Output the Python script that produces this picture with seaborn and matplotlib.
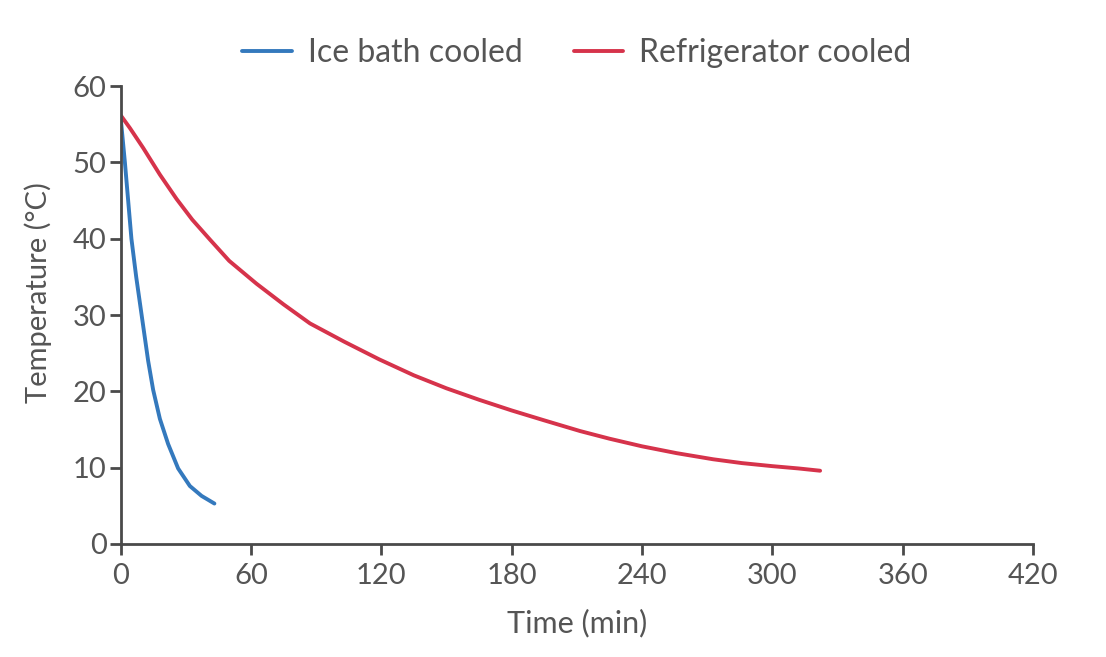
import numpy as np
import pandas as pd
import matplotlib
matplotlib.use("Agg")
import matplotlib.pyplot as plt
import seaborn as sns

# Data
ice_time = [0, 1.0, 2.0, 3.5, 5.0, 7.2, 9.7, 11.2, 12.7, 15.0, 18.1, 21.9, 26.5, 31.9, 37.3, 43.2]
ice_temp = [56.0, 53.0, 50.0, 45.0, 40.0, 35.0, 30.0, 27.0, 24.0, 20.2, 16.4, 13.1, 9.9, 7.6, 6.3, 5.3]

fridge_time = [0, 4.3, 10.4, 18.1, 25.8, 33, 41.1, 50, 62.6, 75, 87.2, 103, 119, 135, 150,
               165, 180, 195, 211.5, 225, 240, 256, 272.8, 286, 300, 312, 322]
fridge_temp = [56.2, 54.5, 51.9, 48.4, 45.2, 42.5, 39.9, 37.1, 34.1, 31.4, 28.9, 26.5, 24.2, 22.1, 20.4,
               18.9, 17.5, 16.2, 14.8, 13.8, 12.8, 11.9, 11.1, 10.6, 10.2, 9.9, 9.6]

series_names = ["Ice bath cooled", "Refrigerator cooled"]
x_ticks = [0, 60, 120, 180, 240, 300, 360, 420]
y_ticks = [0, 10, 20, 30, 40, 50, 60]

df = pd.concat([
    pd.DataFrame({"Time": ice_time, "Temp": ice_temp, "Series": series_names[0]}),
    pd.DataFrame({"Time": fridge_time, "Temp": fridge_temp, "Series": series_names[1]}),
], ignore_index=True)

sns.set_theme(style="white")
plt.rcParams["font.family"] = ["Lato", "DejaVu Sans"]

fig = plt.figure(figsize=(11.06, 6.57), dpi=100)
ax = fig.add_axes([0.109, 0.172, 0.825, 0.697])

palette = {series_names[0]: "#3479bd", series_names[1]: "#d6334b"}
sns.lineplot(data=df, x="Time", y="Temp", hue="Series", palette=palette,
             linewidth=2.8, sort=False, ax=ax, legend=True)

ax.set_xlim(0, 420)
ax.set_ylim(0, 60)
ax.set_xticks(x_ticks)
ax.set_yticks(y_ticks)

grey = "#555555"
for side in ["top", "right"]:
    ax.spines[side].set_visible(False)
for side in ["left", "bottom"]:
    ax.spines[side].set_color("#4a4a4a")
    ax.spines[side].set_linewidth(2)

ax.tick_params(axis="both", which="major", direction="out", length=8, width=2,
               color="#4a4a4a", labelcolor=grey, labelsize=21, left=True, bottom=True)
ax.tick_params(axis="x", pad=6)
ax.tick_params(axis="y", pad=2)

ax.set_xlabel("Time (min)", fontsize=22, color=grey, labelpad=14)
ax.set_ylabel("Temperature (°C)", fontsize=21, color=grey)
ax.yaxis.set_label_coords(-0.075, 0.55)

handles, labels = ax.get_legend_handles_labels()
ax.legend(handles, labels, loc="lower center", bbox_to_anchor=(0.5, 0.99), ncol=2,
          frameon=False, fontsize=23, handlelength=1.55, handletextpad=0.5,
          columnspacing=1.6, labelcolor=grey, borderaxespad=0.3)

fig.savefig("out.png", dpi=100, facecolor="white")
